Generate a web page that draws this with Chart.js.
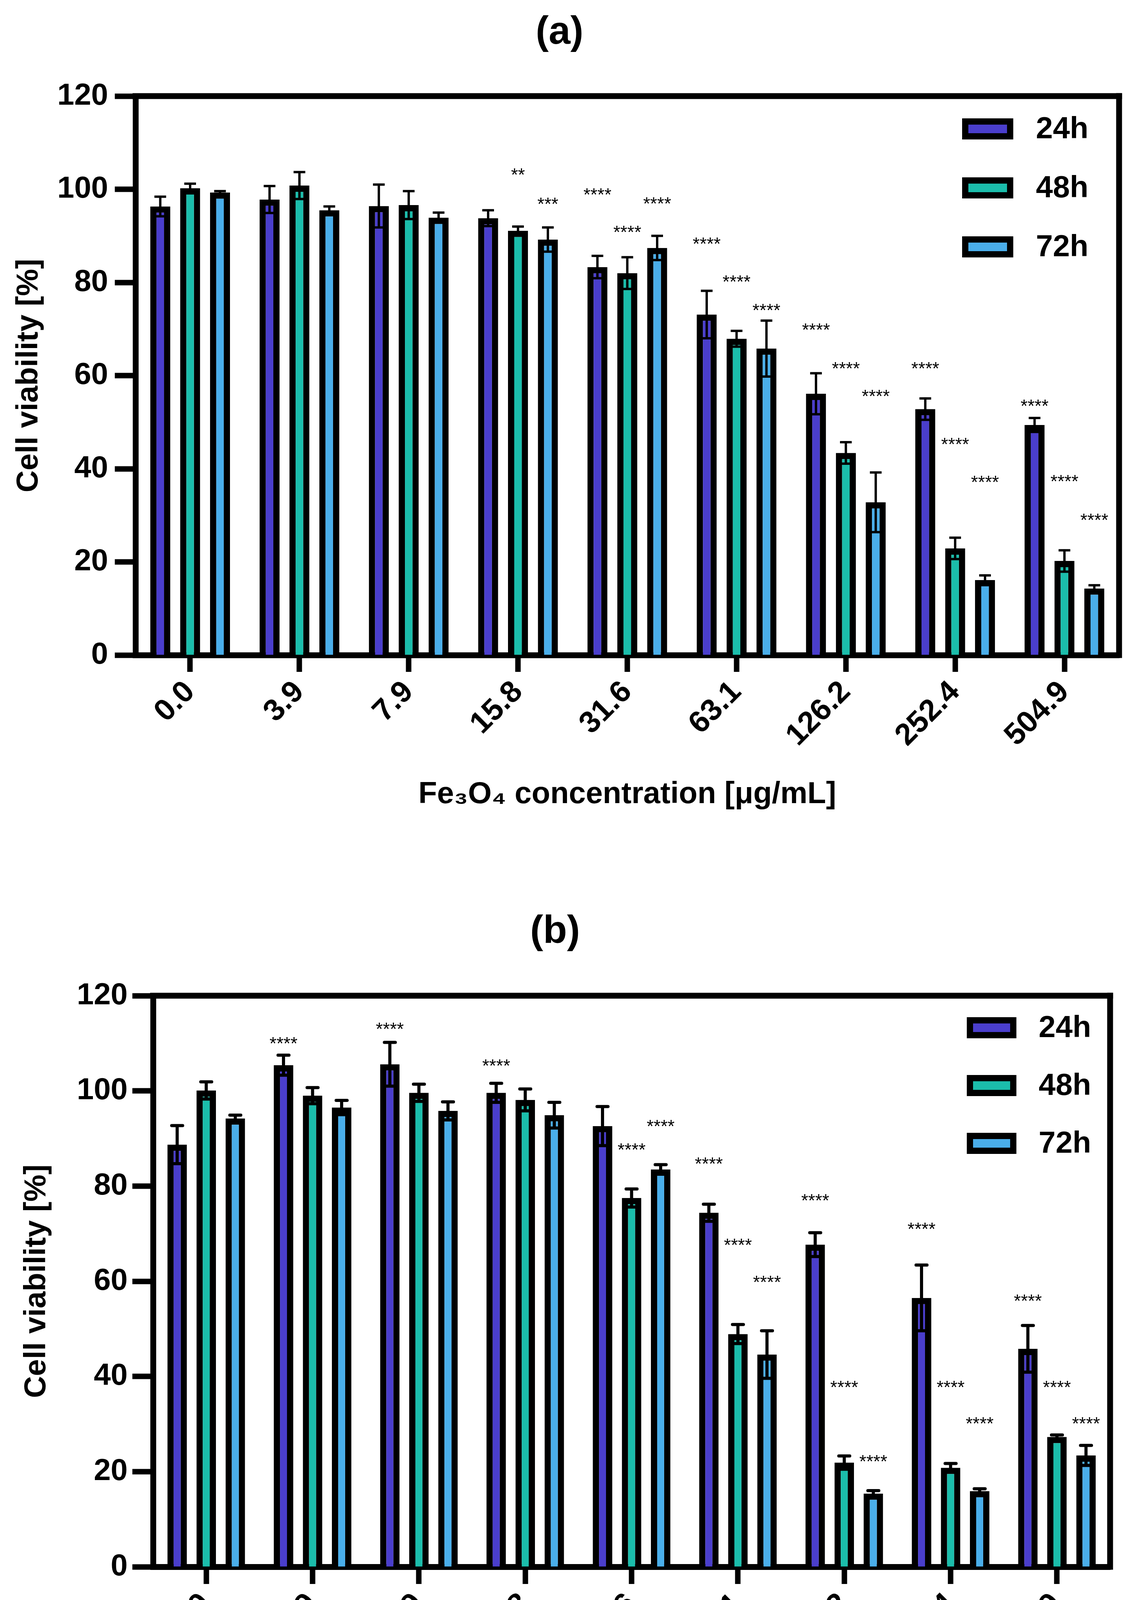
<!DOCTYPE html>
<html>
<head>
<meta charset="utf-8">
<title>Cell viability vs Fe3O4 concentration</title>
<script src="https://cdn.jsdelivr.net/npm/chart.js@4.4.1/dist/chart.umd.min.js"></script>
<style>
html, body { margin: 0; padding: 0; background: #fff; }
canvas { display: block; }
</style>
</head>
<body>
<canvas id="chartA" width="2917" height="2225"></canvas>
<canvas id="chartB" width="2917" height="2225"></canvas>
<script>
/*====================================
        DATA
====================================*/

const concentrations = ["0.0", "3.9", "7.9", "15.8", "31.6", "63.1", "126.2", "252.4", "504.9"];
const seriesNames = ["24h", "48h", "72h"];
const seriesColors = ["#4A3ECC", "#1BBDAB", "#4AAEEA"];
const yTicks = [0, 20, 40, 60, 80, 100, 120];

/* panel (a) - mean and SD */
const a24 = [96.3, 97.8, 96.4, 93.8, 83.3, 73.1, 56.1, 52.8, 49.4];
const a24Err = [2.1, 2.9, 4.6, 1.7, 2.4, 5.1, 4.4, 2.3, 1.5];
const a48 = [100.2, 100.8, 96.6, 91.1, 82.0, 67.9, 43.4, 22.9, 20.2];
const a48Err = [1.0, 2.9, 3.0, 0.9, 3.4, 1.7, 2.3, 2.3, 2.3];
const a72 = [99.3, 95.5, 93.9, 89.2, 87.4, 65.8, 32.8, 16.1, 14.3];
const a72Err = [0.3, 0.8, 1.1, 2.6, 2.6, 6.0, 6.4, 1.0, 0.7];

/* panel (a) - significance marks and the level they sit at */
const a24Stars = ["", "", "", "", "****", "****", "****", "****", "****"];
const a24StarAt = [null, null, null, null, 99.8, 89.2, 70.8, 62.5, 54.4];
const a48Stars = ["", "", "", "**", "****", "****", "****", "****", "****"];
const a48StarAt = [null, null, null, 104.1, 91.7, 81.1, 62.5, 46.2, 38.2];
const a72Stars = ["", "", "", "***", "****", "****", "****", "****", "****"];
const a72StarAt = [null, null, null, 97.8, 97.9, 75.0, 56.5, 38.1, 29.9];

/* panel (b) - mean and SD */
const b24 = [88.7, 105.4, 105.6, 99.6, 92.6, 74.4, 67.7, 56.5, 45.8];
const b24Err = [4.0, 2.1, 4.6, 2.0, 4.1, 1.8, 2.5, 6.9, 4.9];
const b48 = [100.1, 99.0, 99.6, 98.1, 77.5, 48.9, 21.9, 20.8, 27.3];
const b48Err = [1.8, 1.7, 1.8, 2.3, 1.9, 2.0, 1.4, 0.9, 0.4];
const b72 = [94.2, 96.5, 95.8, 94.9, 83.5, 44.6, 15.4, 15.9, 23.4];
const b72Err = [0.7, 1.5, 1.9, 2.7, 1.0, 5.0, 0.6, 0.5, 2.1];

/* panel (b) - significance marks */
const b24Stars = ["", "****", "****", "****", "", "****", "****", "****", "****"];
const b24StarAt = [null, 110.9, 113.9, 106.2, null, 85.6, 77.9, 71.9, 56.8];
const b48Stars = ["", "", "", "", "****", "****", "****", "****", "****"];
const b48StarAt = [null, null, null, null, 88.6, 68.5, 38.7, 38.7, 38.7];
const b72Stars = ["", "", "", "", "****", "****", "****", "****", "****"];
const b72StarAt = [null, null, null, null, 93.5, 60.7, 23.1, 31.0, 31.0];


/*====================================
        SHARED STYLE
====================================*/

const FONT = '"Liberation Sans", Arial, Helvetica, sans-serif';
const AXIS_W = 15;


/*====================================
        ERROR BARS, STARS, FRAME, LEGEND
====================================*/

const panelDecor = {

    id: "panelDecor",

    afterDatasetsDraw(chart, args, opts) {
        const ctx = chart.ctx;
        const yScale = chart.scales.y;

        chart.data.datasets.forEach((ds, i) => {
            const meta = chart.getDatasetMeta(i);
            meta.data.forEach((bar, j) => {
                const v = ds.data[j];
                const e = ds.errors[j];
                const top = yScale.getPixelForValue(v + e);
                const bot = yScale.getPixelForValue(v - e);

                ctx.save();
                ctx.strokeStyle = "#000";
                ctx.lineWidth = opts.errWidth;
                ctx.lineCap = opts.errCap;
                ctx.beginPath();
                ctx.moveTo(bar.x, bot);
                ctx.lineTo(bar.x, top);
                ctx.moveTo(bar.x - opts.capHalf, top);
                ctx.lineTo(bar.x + opts.capHalf, top);
                ctx.moveTo(bar.x - opts.capHalf, bot);
                ctx.lineTo(bar.x + opts.capHalf, bot);
                ctx.stroke();

                if (ds.stars[j]) {
                    ctx.fillStyle = "#000";
                    ctx.font = "46px " + FONT;
                    ctx.textAlign = "center";
                    ctx.textBaseline = "alphabetic";
                    ctx.fillText(ds.stars[j], bar.x, yScale.getPixelForValue(ds.starAt[j]) + 27);
                }
                ctx.restore();
            });
        });
    },

    afterDraw(chart, args, opts) {
        const ctx = chart.ctx;
        const area = chart.chartArea;
        const h = AXIS_W / 2;

        ctx.save();
        ctx.fillStyle = "#000";
        // top and right frame
        ctx.fillRect(area.left - h, area.top - h, area.right - area.left + AXIS_W, AXIS_W);
        ctx.fillRect(area.right - h, area.top - h, AXIS_W, area.bottom - area.top + AXIS_W);

        // legend
        const lg = opts.legend;
        chart.data.datasets.forEach((ds, i) => {
            const cy = area.top + lg.top + i * lg.step;
            const bx = area.right - lg.fromRight;
            ctx.fillStyle = "#000";
            ctx.fillRect(bx, cy - lg.h / 2, lg.w, lg.h);
            ctx.fillStyle = ds.backgroundColor;
            ctx.fillRect(bx + 16, cy - lg.h / 2 + 16, lg.w - 32, lg.h - 32);
            ctx.fillStyle = "#000";
            ctx.font = "bold 78px " + FONT;
            ctx.textAlign = "left";
            ctx.textBaseline = "middle";
            ctx.fillText(ds.label, bx + lg.textGap, cy + 2);
        });
        ctx.restore();
    }

};


/*====================================
        PANEL BUILDER
====================================*/

function makePanel(canvasId, p) {

    const datasets = p.values.map((vals, i) => ({
        label: seriesNames[i],
        data: vals,
        errors: p.errors[i],
        stars: p.stars[i],
        starAt: p.starAt[i],
        backgroundColor: seriesColors[i],
        borderColor: "#000",
        borderWidth: 16,
        borderSkipped: "start",
        categoryPercentage: 0.82,
        barPercentage: 0.67
    }));

    return new Chart(document.getElementById(canvasId), {

        type: "bar",

        data: {
            labels: concentrations,
            datasets: datasets
        },

        options: {
            responsive: false,
            animation: false,
            devicePixelRatio: 1,
            layout: {
                padding: { left: 0, right: p.padRight, top: 0, bottom: 0 }
            },
            plugins: {
                legend: { display: false },
                tooltip: { enabled: false },
                title: {
                    display: true,
                    text: p.title,
                    color: "#000",
                    font: { family: FONT, size: 100, weight: "bold" },
                    padding: { top: p.titleTop, bottom: p.titleBottom }
                },
                panelDecor: {
                    errWidth: p.errWidth,
                    errCap: p.errCap,
                    capHalf: p.capHalf,
                    legend: p.legend
                }
            },
            scales: {
                x: {
                    z: 1,
                    afterFit: s => { s.height = p.xHeight; },
                    grid: {
                        display: true,
                        offset: false,
                        drawOnChartArea: false,
                        drawTicks: true,
                        tickLength: p.xTickLen,
                        tickWidth: 14,
                        tickColor: "#000"
                    },
                    border: { display: true, color: "#000", width: AXIS_W },
                    ticks: {
                        color: "#000",
                        font: { family: FONT, size: 78, weight: "bold" },
                        minRotation: 45,
                        maxRotation: 45,
                        padding: 6
                    },
                    title: {
                        display: true,
                        text: "Fe₃O₄ concentration [μg/mL]",
                        color: "#000",
                        font: { family: FONT, size: 78, weight: "bold" },
                        padding: { top: 0, bottom: p.xTitleBottom }
                    }
                },
                y: {
                    z: 1,
                    min: yTicks[0],
                    max: yTicks[yTicks.length - 1],
                    afterFit: s => { s.width = p.yWidth; },
                    afterBuildTicks: s => { s.ticks = yTicks.map(v => ({ value: v })); },
                    grid: {
                        display: true,
                        drawOnChartArea: false,
                        drawTicks: true,
                        tickLength: 53,
                        tickWidth: 14,
                        tickColor: "#000"
                    },
                    border: { display: true, color: "#000", width: AXIS_W },
                    ticks: {
                        color: "#000",
                        font: { family: FONT, size: 78, weight: "bold" },
                        padding: p.yTickPad
                    },
                    title: {
                        display: true,
                        text: "Cell viability [%]",
                        color: "#000",
                        font: { family: FONT, size: 78, weight: "bold" },
                        padding: { top: p.yTitleTop, bottom: 0 }
                    }
                }
            }
        },

        plugins: [panelDecor]

    });
}


/*====================================
        PANELS
====================================*/

makePanel("chartA", {
    title: "(a)",
    values: [a24, a48, a72],
    errors: [a24Err, a48Err, a72Err],
    stars: [a24Stars, a48Stars, a72Stars],
    starAt: [a24StarAt, a48StarAt, a72StarAt],
    titleTop: 24,
    titleBottom: 102,
    padRight: 51,
    yWidth: 347,
    xHeight: 548,
    xTickLen: 43,
    xTitleBottom: 144,
    yTickPad: 17,
    yTitleTop: 28,
    errWidth: 6,
    errCap: "butt",
    capHalf: 15,
    legend: { fromRight: 402, top: 84, step: 151, w: 131, h: 54, textGap: 189 }
});

makePanel("chartB", {
    title: "(b)",
    values: [b24, b48, b72],
    errors: [b24Err, b48Err, b72Err],
    stars: [b24Stars, b48Stars, b72Stars],
    starAt: [b24StarAt, b48StarAt, b72StarAt],
    titleTop: 101,
    titleBottom: 103,
    padRight: 74,
    yWidth: 392,
    xHeight: 439,
    xTickLen: 44,
    xTitleBottom: 58,
    yTickPad: 12,
    yTitleTop: 48,
    errWidth: 8,
    errCap: "round",
    capHalf: 14,
    legend: { fromRight: 367, top: 82, step: 148, w: 127, h: 54, textGap: 184 }
});
</script>
</body>
</html>
